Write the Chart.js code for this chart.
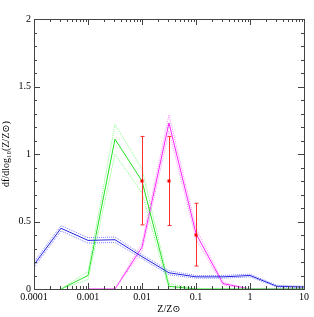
<!DOCTYPE html>
<html>
<head>
<meta charset="utf-8">
<script src="https://cdn.jsdelivr.net/npm/chart.js@4/dist/chart.umd.min.js"></script>
<style>
  html, body { margin: 0; padding: 0; background: #fff; }
  #wrap { width: 314px; height: 317px; }
</style>
</head>
<body>
<div id="wrap"><canvas id="chart"></canvas></div>
<script>
// metallicity grid (half-decade steps)
const zGrid = [0.0001, 0.000316, 0.001, 0.00316, 0.01, 0.0316, 0.1, 0.316, 1, 3.16, 10];

// blue distribution with its band
const blueMid = [0.18, 0.45, 0.36, 0.365, 0.24, 0.12, 0.09, 0.09, 0.10, 0.02, 0.015];
const blueHi  = [0.20, 0.47, 0.38, 0.385, 0.255, 0.135, 0.10, 0.10, 0.11, 0.027, 0.02];
const blueLo  = [0.16, 0.43, 0.34, 0.345, 0.225, 0.105, 0.08, 0.08, 0.09, 0.014, 0.01];

// green distribution (starts at second grid point)
const greenMid = [null, 0, 0.10, 1.11, 0.80, 0.02, 0, 0, 0, 0, 0];
const greenHi  = [null, 0, 0.13, 1.22, 0.89, 0.04, 0, 0, 0, 0, 0];
const greenLo  = [null, 0, 0.07, 1.00, 0.71, 0.00, 0, 0, 0, 0, 0];

// magenta distribution
const magMid = [null, null, 0, 0, 0.31, 1.23, 0.41, 0.04, 0, 0, 0];
const magHi  = [null, null, 0, 0, 0.34, 1.29, 0.45, 0.05, 0, 0, 0];
const magLo  = [null, null, 0, 0, 0.28, 1.17, 0.37, 0.03, 0, 0, 0];

// observed points with error bars
const obsZ   = [0.01, 0.0316, 0.1];
const obsVal = [0.80, 0.80, 0.40];
const obsLow = [0.475, 0.47, 0.17];
const obsHigh = [1.13, 1.13, 0.635];

// axis ticks
const xMajor = [0.0001, 0.001, 0.01, 0.1, 1, 10];
const xLabels = ['0.0001', '0.001', '0.01', '0.1', '1', '10'];
const yMajor = [0, 0.5, 1, 1.5, 2];
const yLabels = ['0', '0.5', '1', '1.5', '2'];

function pts(arr) {
  return zGrid.map((z, i) => ({ x: z, y: arr[i] })).filter(p => p.y !== null);
}

function line(arr, color, dash) {
  return {
    type: 'line',
    data: pts(arr),
    borderColor: color,
    borderWidth: 1,
    borderDash: dash || [],
    pointRadius: 0,
    tension: 0,
    fill: false
  };
}

const FONT = { family: '"Liberation Serif", "DejaVu Serif", serif', size: 10 };

// frame with inward ticks on all sides, plus error bars
const framePlugin = {
  id: 'frame',
  afterDatasetsDraw(chart) {
    const ctx = chart.ctx;
    const xs = chart.scales.x, ys = chart.scales.y;
    const a = chart.chartArea;

    // error bars
    ctx.save();
    ctx.strokeStyle = '#ff3030';
    ctx.fillStyle = '#ff0000';
    ctx.lineWidth = 1;
    obsZ.forEach((z, i) => {
      const px = Math.round(xs.getPixelForValue(z)) + 0.5;
      const yl = ys.getPixelForValue(obsLow[i]);
      const yh = ys.getPixelForValue(obsHigh[i]);
      ctx.beginPath();
      ctx.moveTo(px, yl); ctx.lineTo(px, yh);
      ctx.moveTo(px - 2, yl); ctx.lineTo(px + 2, yl);
      ctx.moveTo(px - 2, yh); ctx.lineTo(px + 2, yh);
      ctx.stroke();
      const py = ys.getPixelForValue(obsVal[i]);
      ctx.fillRect(px - 2, py - 1.5, 3, 3);
    });
    ctx.restore();

    ctx.save();
    ctx.strokeStyle = '#444';
    ctx.lineWidth = 1;
    ctx.strokeRect(Math.round(a.left) + 0.5, Math.round(a.top) + 0.5,
      Math.round(a.right - a.left), Math.round(a.bottom - a.top));
    ctx.beginPath();
    // x ticks (majors + 2..9 minors)
    for (let e = -4; e <= 1; e++) {
      for (let m = 1; m <= 9; m++) {
        const v = m * Math.pow(10, e);
        if (v > 10.0001) break;
        const px = Math.round(xs.getPixelForValue(v)) + 0.5;
        const len = m === 1 ? 6 : 3;
        ctx.moveTo(px, a.bottom); ctx.lineTo(px, a.bottom - len);
        ctx.moveTo(px, a.top); ctx.lineTo(px, a.top + len);
      }
    }
    // y ticks every 0.1, majors every 0.5
    for (let k = 0; k <= 20; k++) {
      const py = Math.round(ys.getPixelForValue(k / 10)) + 0.5;
      const len = k % 5 === 0 ? 6 : 3;
      ctx.moveTo(a.left, py); ctx.lineTo(a.left + len, py);
      ctx.moveTo(a.right, py); ctx.lineTo(a.right - len, py);
    }
    ctx.stroke();
    ctx.restore();
  }
};

new Chart(document.getElementById('chart'), {
  type: 'line',
  data: {
    datasets: [
      line(blueHi, '#8080ff', [1, 1]),
      line(blueLo, '#8080ff', [1, 1]),
      line(blueMid, '#2020e0'),
      line(greenHi, '#80ff80', [1, 1]),
      line(greenLo, '#80ff80', [1, 1]),
      line(greenMid, '#20e020'),
      line(magHi, '#ff90ff', [1, 1]),
      line(magLo, '#ff90ff', [1, 1]),
      line(magMid, '#ff20ff')
    ]
  },
  options: {
    responsive: true,
    maintainAspectRatio: false,
    animation: false,
    layout: { padding: { top: 19, right: 10, left: 0, bottom: 0 } },
    plugins: { legend: { display: false }, tooltip: { enabled: false } },
    scales: {
      x: {
        type: 'logarithmic',
        min: 0.0001,
        max: 10,
        afterBuildTicks(scale) {
          scale.ticks = xMajor.map(v => ({ value: v }));
        },
        afterFit(scale) { scale.height = 28; },
        grid: { display: false, drawTicks: false },
        border: { display: false },
        ticks: {
          autoSkip: false,
          maxRotation: 0,
          padding: 2,
          color: '#000',
          font: FONT,
          callback: (v) => {
            const i = xMajor.findIndex(t => Math.abs(t - v) / t < 1e-6);
            return i >= 0 ? xLabels[i] : '';
          }
        },
        title: {
          display: true,
          text: 'Z/Z\u2299',
          color: '#000',
          font: FONT,
          padding: { top: 0, bottom: 2 }
        }
      },
      y: {
        min: 0,
        max: 2,
        afterBuildTicks(scale) {
          scale.ticks = yMajor.map(v => ({ value: v }));
        },
        afterFit(scale) { scale.width = 34; },
        grid: { display: false, drawTicks: false },
        border: { display: false },
        ticks: {
          padding: 3,
          color: '#000',
          font: FONT,
          callback: (v) => {
            const i = yMajor.indexOf(v);
            return i >= 0 ? yLabels[i] : '';
          }
        },
        title: {
          display: true,
          text: 'df/dlog\u2081\u2080(Z/Z\u2299)',
          color: '#000',
          font: FONT,
          padding: { top: 0, bottom: 0 }
        }
      }
    }
  },
  plugins: [framePlugin]
});
</script>
</body>
</html>
